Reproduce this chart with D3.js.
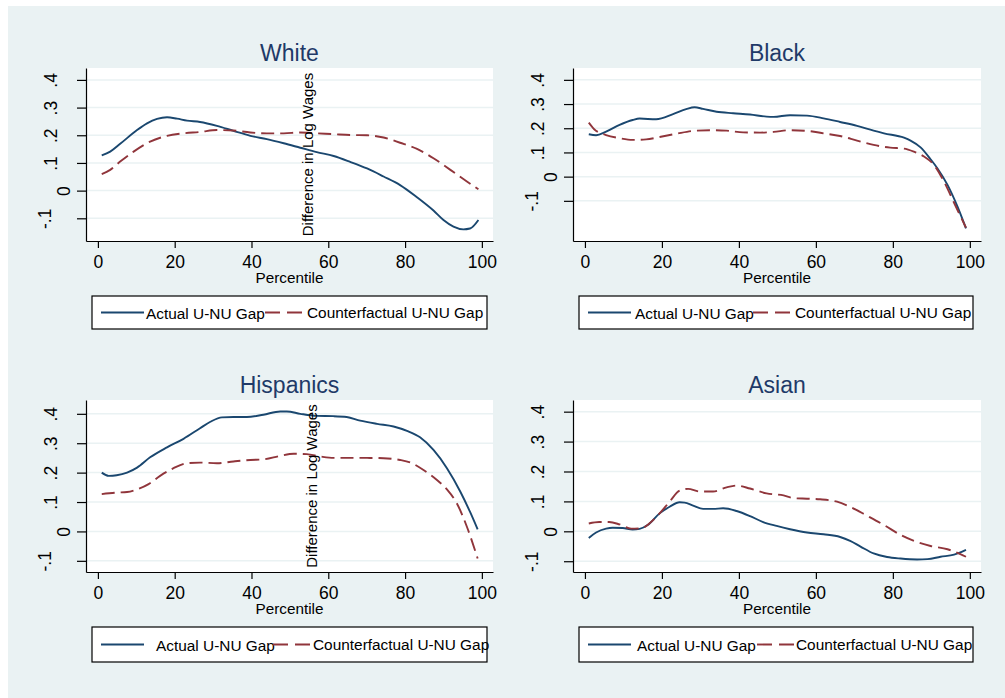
<!DOCTYPE html>
<html>
<head>
<meta charset="utf-8">
<script src="https://cdn.jsdelivr.net/npm/d3@7"></script>
<style>
  html, body { margin: 0; padding: 0; background: #ffffff; }
  svg { display: block; font-family: "Liberation Sans", Arial, sans-serif; }
</style>
</head>
<body>
<svg id="chart" width="1005" height="698"></svg>
<script>
// ---------------- DATA ----------------
const panelTitles = ["White", "Black", "Hispanics", "Asian"];
const seriesNames = ["Actual U-NU Gap", "Counterfactual U-NU Gap"];
const xTicks = [0, 20, 40, 60, 80, 100];
const yTicks = [-0.1, 0, 0.1, 0.2, 0.3, 0.4];
const yTickLabels = ["-.1", "0", ".1", ".2", ".3", ".4"];
const xAxisTitle = "Percentile";
const yAxisTitle = "Difference in Log Wages";

// White
const whiteActualP = [1, 3.2, 5.8, 10.2, 12.8, 15.4, 18, 20.6, 23.2, 26.6, 31, 35.3, 39.7, 44, 48.4, 52.7, 57, 61.4, 65.7, 70.1, 74.4, 78.7, 83.1, 87.4, 90, 92.6, 95.2, 96.9, 99.1];
const whiteActual  = [.127, .141, .169, .219, .243, .259, .265, .260, .253, .248, .234, .216, .198, .186, .171, .155, .139, .125, .104, .080, .051, .020, -.024, -.072, -.106, -.130, -.140, -.137, -.106];
const whiteCounterP = [1, 3.2, 5.8, 9.3, 13.6, 18, 22.3, 26.6, 31, 35.3, 39.7, 44, 48.4, 52.7, 57, 61.4, 65.7, 70.1, 74.4, 78.7, 83.1, 87.4, 91.8, 96.1, 99.1];
const whiteCounter  = [.060, .075, .105, .141, .177, .198, .207, .212, .219, .217, .210, .207, .207, .210, .207, .204, .201, .200, .192, .173, .151, .117, .075, .033, .005];

// Black
const blackActualP = [1, 2.9, 5.5, 9, 12.4, 14.2, 18.5, 22.9, 26.3, 28.5, 30.7, 34.2, 38.5, 42.9, 47.2, 49, 53.3, 57.7, 62, 66.3, 70.7, 75, 77.7, 82.9, 84.6, 87.2, 89.8, 91.6, 94.2, 96.8, 99];
const blackActual  = [.175, .171, .186, .214, .234, .240, .237, .258, .279, .287, .280, .268, .262, .257, .248, .247, .254, .252, .241, .226, .210, .190, .179, .161, .149, .121, .072, .034, -.034, -.124, -.214];
const blackCounterP = [1, 2.4, 5.5, 9, 12.4, 15.9, 19.4, 23.7, 28.1, 32.4, 36.8, 41.1, 45.5, 49, 53.3, 57.7, 62, 66.3, 70.7, 75, 79.3, 82.9, 85.5, 88.1, 90.7, 93.3, 95.9, 99];
const blackCounter  = [.223, .196, .172, .159, .152, .154, .164, .177, .189, .192, .190, .183, .182, .185, .192, .189, .179, .168, .149, .131, .120, .116, .103, .083, .048, -.021, -.108, -.211];

// Hispanics
const hispActualP = [1, 2.8, 4.9, 7.6, 10.2, 13.6, 18, 22.3, 26.6, 29.3, 32.3, 35.3, 38.8, 43.1, 47.5, 49.2, 52.7, 57, 61.4, 64.8, 68.3, 72.7, 77, 80.5, 83.9, 87.4, 90.9, 94.4, 96.9, 98.9];
const hispActual  = [.200, .189, .191, .200, .217, .252, .286, .315, .351, .373, .388, .389, .389, .397, .408, .408, .400, .393, .392, .389, .377, .366, .357, .342, .320, .277, .215, .135, .067, .007];
const hispCounterP = [1, 4.9, 7.6, 10.2, 13.2, 16.2, 19.7, 23.2, 26.6, 31, 35.3, 39.7, 43.1, 47.5, 51, 54.4, 57.9, 61.4, 65.7, 70.1, 74.4, 78.7, 81.4, 84.8, 88.3, 90.9, 93.5, 96.1, 98.9];
const hispCounter  = [.127, .132, .134, .143, .161, .189, .215, .232, .234, .232, .238, .243, .245, .257, .264, .263, .255, .250, .250, .250, .249, .243, .234, .209, .175, .143, .095, .016, -.092];

// Asian
const asianActualP = [1, 2.9, 5.5, 7.2, 9.8, 12.4, 14.2, 16.3, 19.4, 22, 24.6, 25.9, 28.1, 30.7, 33.3, 35.9, 39.4, 42.9, 46.3, 49.8, 53.3, 57.7, 62, 66.3, 68.9, 71.6, 75, 78.5, 82, 86.3, 89, 92.4, 95.9, 99];
const asianActual  = [-.022, -.004, .009, .012, .011, .006, .008, .021, .060, .082, .097, .096, .086, .075, .075, .077, .068, .051, .031, .018, .007, -.004, -.010, -.019, -.032, -.051, -.074, -.086, -.091, -.094, -.093, -.085, -.078, -.062];
const asianCounterP = [1, 3.7, 6.3, 9, 12, 14.6, 16.8, 19.4, 22, 24.6, 26.8, 29.8, 33.3, 36.8, 39.4, 42.9, 47.2, 51.6, 54.2, 57.7, 61.1, 65.5, 68.9, 73.3, 77.7, 82, 85.5, 89.8, 94.2, 99];
const asianCounter  = [.026, .031, .031, .023, .009, .010, .027, .060, .099, .136, .142, .133, .133, .147, .153, .143, .127, .120, .111, .109, .107, .099, .082, .052, .021, -.012, -.032, -.049, -.060, -.085];

const panelData = [
  [[whiteActualP, whiteActual], [whiteCounterP, whiteCounter]],
  [[blackActualP, blackActual], [blackCounterP, blackCounter]],
  [[hispActualP, hispActual], [hispCounterP, hispCounter]],
  [[asianActualP, asianActual], [asianCounterP, asianCounter]]
];

// ---------------- LAYOUT ----------------
const layouts = [
  {l: 86,  r: 493, t: 68,  b: 241, yDom: [-0.182, 0.443], yTitleX: 313, legL: 92,  legR: 487, legT: 296, legB: 329, aTx: 54, dS: 173, cTx: 215},
  {l: 573, r: 981, t: 68,  b: 241, yDom: [-0.266, 0.449], yTitleX: null, legL: 579, legR: 973, legT: 296, legB: 329, aTx: 56, dS: 174, cTx: 216},
  {l: 86,  r: 493, t: 400, b: 572, yDom: [-0.138, 0.447], yTitleX: 317, legL: 92,  legR: 487, legT: 627, legB: 662, aTx: 64, dS: 181, cTx: 221},
  {l: 573, r: 981, t: 400, b: 572, yDom: [-0.136, 0.439], yTitleX: null, legL: 579, legR: 973, legT: 627, legB: 662, aTx: 58, dS: 178, cTx: 217}
];
const xDom = [-3.1, 102.9];
const colors = ["#1a476f", "#90353b"];
const dash = "13,6";
const bg = "#eaf2f3";

const svg = d3.select("#chart");
svg.append("rect").attr("x", 8).attr("y", 6).attr("width", 997).attr("height", 692).attr("fill", bg);

layouts.forEach((L, i) => {
  const g = svg.append("g");
  const x = d3.scaleLinear().domain(xDom).range([L.l, L.r]);
  const y = d3.scaleLinear().domain(L.yDom).range([L.b, L.t]);

  // plot region
  g.append("rect").attr("x", L.l).attr("y", L.t).attr("width", L.r - L.l).attr("height", L.b - L.t).attr("fill", "#ffffff");

  // grid
  g.selectAll(".grid").data(yTicks).join("line")
    .attr("x1", L.l).attr("x2", L.r)
    .attr("y1", d => y(d)).attr("y2", d => y(d))
    .attr("stroke", bg).attr("stroke-width", 1.5);

  // lines
  panelData[i].forEach((s, k) => {
    const pts = s[0].map((p, j) => [p, s[1][j]]);
    const line = d3.line().x(d => x(d[0])).y(d => y(d[1])).curve(d3.curveMonotoneX);
    g.append("path").datum(pts).attr("d", line)
      .attr("fill", "none").attr("stroke", colors[k]).attr("stroke-width", 1.9)
      .attr("stroke-dasharray", k === 1 ? dash : null)
      .attr("stroke-linejoin", "round");
  });

  // x axis
  const xa = g.append("g").attr("transform", `translate(0,${L.b})`)
    .call(d3.axisBottom(x).tickValues(xTicks).tickSize(7).tickSizeOuter(0).tickPadding(8).tickFormat(d3.format("d")));
  xa.selectAll("text").attr("font-size", 17.5).attr("fill", "#000").attr("font-family", "Liberation Sans, Arial, sans-serif");
  xa.selectAll("line, path").attr("stroke", "#000").attr("stroke-width", 1.2);

  // y axis
  const ya = g.append("g").attr("transform", `translate(${L.l},0)`)
    .call(d3.axisLeft(y).tickValues(yTicks).tickSize(9).tickSizeOuter(0).tickFormat((d, j) => yTickLabels[j]));
  ya.selectAll("line, path").attr("stroke", "#000").attr("stroke-width", 1.2);
  ya.selectAll("text")
    .attr("font-size", 17.5).attr("fill", "#000").attr("font-family", "Liberation Sans, Arial, sans-serif")
    .attr("x", null).attr("dy", null).attr("y", null)
    .attr("text-anchor", "middle")
    .attr("transform", function(d, j) {
      const lab = yTickLabels[j];
      const off = lab.length === 1 ? 16.5 : (lab.length === 2 ? 29.5 : 35);
      return `translate(${-off},0) rotate(-90)`;
    });

  // x axis title
  g.append("text").attr("x", (L.l + L.r) / 2).attr("y", L.b + 42)
    .attr("text-anchor", "middle").attr("font-size", 15.3).attr("fill", "#000").text(xAxisTitle);

  // misplaced y axis title
  if (L.yTitleX !== null) {
    g.append("text").attr("transform", `translate(${L.yTitleX},${(L.t + L.b) / 2}) rotate(-90)`)
      .attr("text-anchor", "middle").attr("font-size", 15).attr("fill", "#000").text(yAxisTitle);
  }

  // title
  g.append("text").attr("x", (L.l + L.r) / 2).attr("y", L.t - 7)
    .attr("text-anchor", "middle").attr("font-size", 23).attr("fill", "#1f3a68").text(panelTitles[i]);

  // legend
  g.append("rect").attr("x", L.legL).attr("y", L.legT).attr("width", L.legR - L.legL).attr("height", L.legB - L.legT)
    .attr("fill", "#fff").attr("stroke", "#000").attr("stroke-width", 1.2);
  const ly = (L.legT + L.legB) / 2;
  g.append("line").attr("x1", L.legL + 9).attr("x2", L.legL + 52).attr("y1", ly).attr("y2", ly)
    .attr("stroke", colors[0]).attr("stroke-width", 1.9);
  g.append("text").attr("x", L.legL + L.aTx).attr("y", ly + 6).attr("font-size", 15.4).attr("fill", "#000").text(seriesNames[0]);
  g.append("line").attr("x1", L.legL + L.dS).attr("x2", L.legL + L.dS + 37).attr("y1", ly).attr("y2", ly)
    .attr("stroke", colors[1]).attr("stroke-width", 1.9).attr("stroke-dasharray", "15,7");
  g.append("text").attr("x", L.legL + L.cTx).attr("y", ly + 5).attr("font-size", 15.4).attr("fill", "#000").text(seriesNames[1]);
});
</script>
</body>
</html>
